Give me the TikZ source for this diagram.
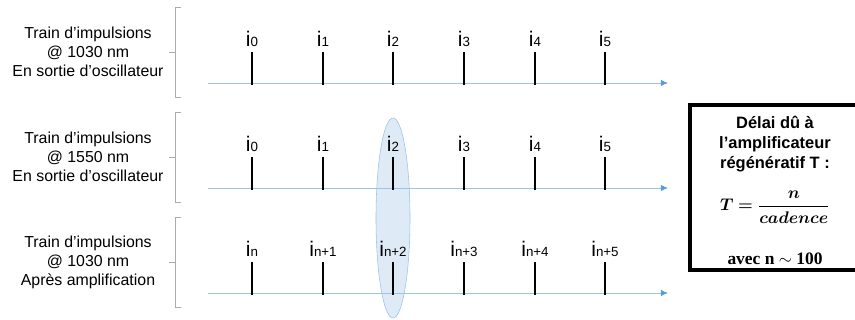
\documentclass[tikz,border=0pt]{standalone}
\usepackage{amsmath,bm}
\usepackage{fontspec}
\setmainfont{Liberation Sans}
\newfontfamily\timesfont{Liberation Serif}
\usetikzlibrary{arrows.meta,positioning,shapes.geometric}

\definecolor{axisblue}{HTML}{9DC3E6}
\definecolor{tipblue}{HTML}{5B9BD5}
\definecolor{ovalfill}{HTML}{DEEAF6}

% pulse label: big i with a small index
\newcommand{\pulse}[1]{{\fontsize{15}{15}\selectfont i}{\fontsize{9.5}{9.5}\selectfont #1}}

\begin{document}
\begin{tikzpicture}[
			x = 0.025cm, y = -0.025cm, % one unit = one pixel
			font = \fontsize{11.3}{13.5}\selectfont
			]
			
			\tikzstyle{axis}=[
			draw = axisblue,
			semithick,
			-{Latex[length=5pt,width=4.5pt,color=tipblue]}
			]
			\tikzstyle{pulseline}=[draw = black, line width = 1.3pt]
			\tikzstyle{pulselabel}=[anchor = base, inner sep = 0pt]
			\tikzstyle{brace}=[draw = gray!65, semithick]
			
			\useasboundingbox (0,0) rectangle (855,320);
			
			% highlighted pulse
			\node[ellipse, draw = axisblue, fill = ovalfill, minimum width = 0.85cm, minimum height = 5cm] (oval) at (393,218) {};
			
			% train descriptions
			\node[align=center] (t1) at (88,52) {Train d'impulsions\\@ 1030 nm\\En sortie d'oscillateur};
			\node[align=center] (t2) at (88,157) {Train d'impulsions\\@ 1550 nm\\En sortie d'oscillateur};
			\node[align=center] (t3) at (88,262) {Train d'impulsions\\@ 1030 nm\\Après amplification};
			
			% brackets
			\foreach \r/\y in {1/52,2/157,3/262} {
				\coordinate (b\r t) at (175,\y-45);
				\coordinate (b\r b) at (175,\y+45);
				\coordinate (b\r m) at (175,\y);
				\draw[brace] ([xshift=4]b\r t) -- (b\r t) -- (b\r b) -- ([xshift=4]b\r b);
				\draw[brace] (b\r m) -- ([xshift=-4]b\r m);
			}
			
			% time axes
			\foreach \r/\y in {1/83,2/188,3/293} {
				\coordinate (a\r s) at (208,\y);
				\coordinate (a\r e) at (668,\y);
				\draw[axis] (a\r s) -- (a\r e);
			}
			
			% pulses
			\foreach \k/\x in {0/252,1/323,2/393,3/464,4/535,5/605} {
				\draw[pulseline] (\x,52) coordinate (p1\k) -- (\x,85);
				\node[pulselabel] (l1\k) at (\x,47) {\pulse{\k}};
				\draw[pulseline] (\x,157) coordinate (p2\k) -- (\x,190);
				\node[pulselabel] (l2\k) at (\x,152) {\pulse{\k}};
			}
			\foreach \k/\x/\s in {0/252/n,1/323/n+1,2/393/n+2,3/464/n+3,4/535/n+4,5/605/n+5} {
				\draw[pulseline] (\x,262) coordinate (p3\k) -- (\x,295);
				\node[pulselabel] (l3\k) at (\x,257) {\pulse{\s}};
			}
			
			% delay box
			\node[draw, line width = 2.2pt, minimum width = 4.2cm, minimum height = 4.125cm] (box) at (774,187.5) {};
			\node[align=center, font=\fontsize{11.7}{14}\selectfont\bfseries] (delai) at (775,144) {Délai dû à\\l'amplificateur\\régénératif T :};
			\node[font=\fontsize{12.5}{12.5}\selectfont] (formule) at (775,207) {$\bm{T=\dfrac{n}{cadence}}$};
			\node[font=\fontsize{12.4}{12.4}\selectfont\timesfont\bfseries] (avec) at (775,259) {avec n $\sim$ 100};
			
		\end{tikzpicture}
\end{document}
